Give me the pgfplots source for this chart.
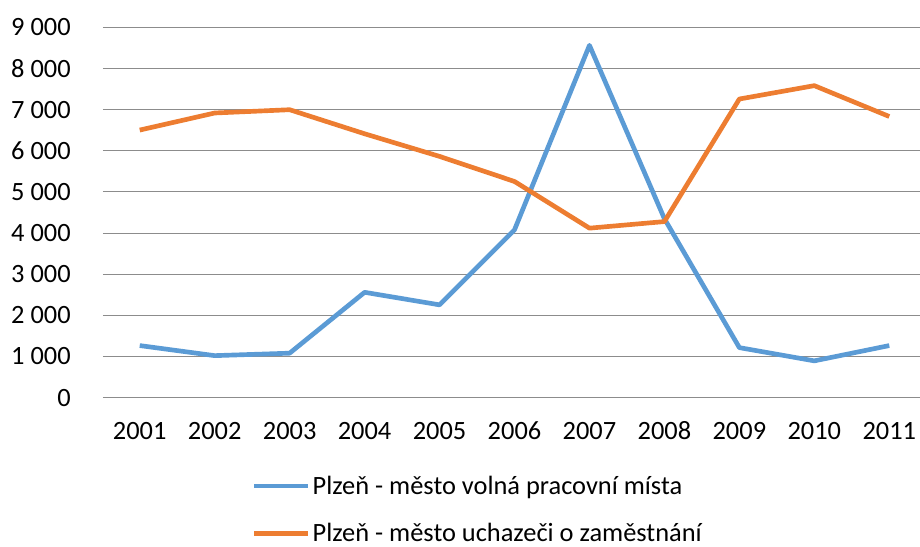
\documentclass[border=0pt]{standalone}
\usepackage{pgfplots}
\pgfplotsset{compat=1.18}
\usepackage{fontspec}
\setmainfont{Carlito}
\definecolor{cblue}{HTML}{5B9BD5}
\definecolor{corange}{HTML}{ED7D31}
\definecolor{cgrid}{HTML}{8C8C8C}
\begin{document}
\begin{tikzpicture}
\begin{axis}[
  scale only axis,
  width=612.75pt, height=277.6pt,
  xmin=-0.49, xmax=10.41,
  ymin=0, ymax=9000,
  axis line style={draw=none},
  xtick={0,...,10},
  xticklabels={2001,2002,2003,2004,2005,2006,2007,2008,2009,2010,2011},
  ytick={0,1000,...,9000},
  yticklabels={0,1 000,2 000,3 000,4 000,5 000,6 000,7 000,8 000,9 000},
  major tick length=0pt,
  ymajorgrids,
  grid style={cgrid, line width=0.8pt},
  tick label style={font=\fontsize{19.8}{23}\selectfont, text=black},
  yticklabel style={anchor=east, inner sep=0pt, xshift=-24pt},
  xticklabel style={anchor=base, inner sep=0pt, yshift=-31.7pt},
  clip=false,
  legend style={at={(0.1824,-0.303)}, anchor=west, draw=none, fill=none,
    inner sep=0pt, outer sep=0pt, row sep=20.5pt,
    font=\fontsize{19.8}{23}\selectfont,
    nodes={inner xsep=1.5pt, inner ysep=0pt}},
  legend cell align=left,
  legend image code/.code={\draw[#1, line width=3.5pt] (0pt,0pt) -- (40.5pt,0pt);},
]
\addplot[cblue, line width=3.5pt, line join=round] coordinates {
(0,1265) (1,1020) (2,1080) (3,2560) (4,2255) (5,4080) (6,8565) (7,4350) (8,1215) (9,893) (10,1265)};
\addlegendentry{Plzeň - město volná pracovní místa}
\addplot[corange, line width=3.5pt, line join=round] coordinates {
(0,6505) (1,6920) (2,7000) (3,6415) (4,5865) (5,5255) (6,4120) (7,4280) (8,7260) (9,7585) (10,6835)};
\addlegendentry{Plzeň - město uchazeči o zaměstnání}
\coordinate (bl) at (rel axis cs:0,0);
\coordinate (tr) at (rel axis cs:1,1);
\end{axis}
\pgfresetboundingbox
\path[use as bounding box] ([xshift=-77.25pt,yshift=-112pt]bl) rectangle ([yshift=20.6pt]tr);
\end{tikzpicture}
\end{document}
